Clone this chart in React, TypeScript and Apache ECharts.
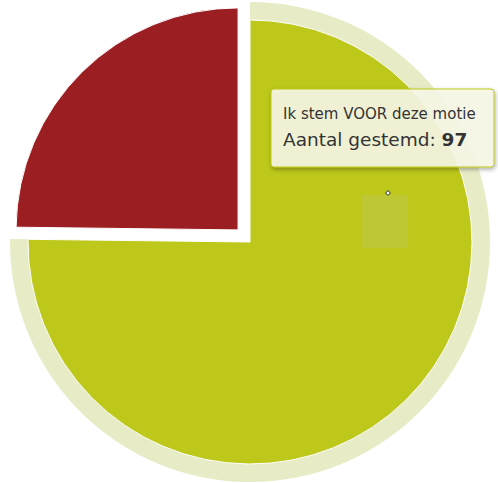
import React, { useEffect, useRef } from "react";
import * as echarts from "echarts";

// Data
const categories: string[] = ["Ik stem VOOR deze motie", "Ik stem TEGEN deze motie"];
const votes: number[] = [97, 32];
const sliceColors: string[] = ["#BDC81A", "#9B1E23"];
const haloColors: string[] = ["#E8ECC6", "rgba(0,0,0,0)"];
const selectedIndex = 1;
const hoveredIndex = 0;
const tooltipValueLabel = "Aantal gestemd";

export default function App() {
  const ref = useRef<HTMLDivElement | null>(null);

  useEffect(() => {
    if (!ref.current) return;
    const chart = echarts.init(ref.current, undefined, { renderer: "svg" });

    const center = [250, 242];

    const option: any = {
      animation: false,
      tooltip: { show: false },
      series: [
        {
          type: "pie",
          silent: true,
          center,
          radius: [0, 240],
          startAngle: 90,
          clockwise: true,
          label: { show: false },
          labelLine: { show: false },
          emphasis: { disabled: true },
          z: 1,
          data: categories.map((name, i) => ({
            name,
            value: votes[i],
            itemStyle: { color: haloColors[i], borderWidth: 0 },
          })),
        },
        {
          type: "pie",
          center,
          radius: [0, 222],
          startAngle: 90,
          clockwise: true,
          selectedMode: "single",
          selectedOffset: 17,
          label: { show: false },
          labelLine: { show: false },
          emphasis: { disabled: true },
          z: 2,
          data: categories.map((name, i) => ({
            name,
            value: votes[i],
            selected: i === selectedIndex,
            itemStyle: { color: sliceColors[i], borderColor: "#ffffff", borderWidth: 1 },
            select: {
              itemStyle: { color: sliceColors[i], borderColor: "#ffffff", borderWidth: 1 },
            },
          })),
        },
      ],
      graphic: [
        {
          type: "rect",
          z: 50,
          silent: true,
          shape: { x: 362, y: 195, width: 46, height: 53 },
          style: { fill: "#BEC734" },
        },
        {
          type: "circle",
          z: 51,
          silent: true,
          shape: { cx: 388, cy: 193, r: 2 },
          style: { fill: "#ffffff", stroke: "#333333", lineWidth: 1 },
        },
        {
          type: "rect",
          z: 100,
          silent: true,
          shape: { x: 271, y: 89, width: 223, height: 78, r: 3 },
          style: {
            fill: "rgba(249,249,233,0.88)",
            stroke: sliceColors[hoveredIndex],
            lineWidth: 1,
            shadowBlur: 4,
            shadowOffsetX: 1,
            shadowOffsetY: 2,
            shadowColor: "rgba(0,0,0,0.35)",
          },
        },
        {
          type: "text",
          z: 101,
          silent: true,
          style: {
            x: 283,
            y: 114,
            text: categories[hoveredIndex],
            fontSize: 15,
            fontFamily: "DejaVu Sans",
            fill: "#333333",
            verticalAlign: "middle",
          },
        },
        {
          type: "text",
          z: 101,
          silent: true,
          style: {
            x: 283,
            y: 139,
            text: `{a|${tooltipValueLabel}: }{b|${votes[hoveredIndex]}}`,
            fontFamily: "DejaVu Sans",
            verticalAlign: "middle",
            rich: {
              a: { fontSize: 18.5, fontFamily: "DejaVu Sans", fill: "#333333" },
              b: { fontSize: 18.5, fontFamily: "DejaVu Sans", fontWeight: "bold", fill: "#333333" },
            },
          },
        },
      ],
    };

    chart.setOption(option);
    return () => chart.dispose();
  }, []);

  return (
    <div
      ref={ref}
      style={{ position: "absolute", left: 0, top: 0, width: 498, height: 483 }}
    />
  );
}
